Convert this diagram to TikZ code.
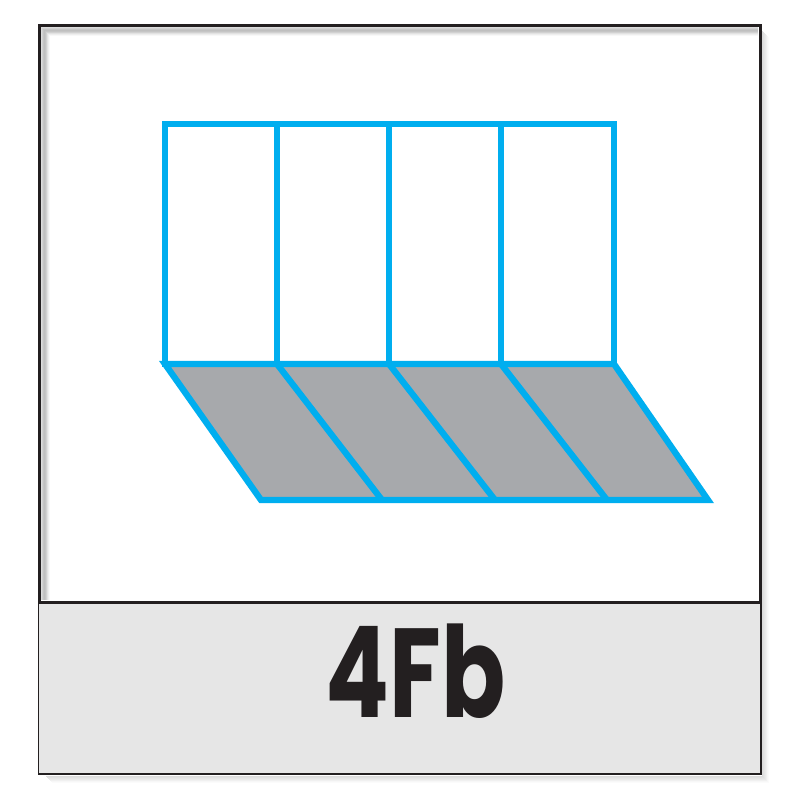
\documentclass[tikz,border=0pt]{standalone}
\usepackage{fontspec}
\usepackage{graphicx}
\newfontfamily\labelfont{Poppins}[UprightFont=* Bold]
\definecolor{cyanline}{HTML}{00AEEF}
\definecolor{panelgray}{HTML}{A7A9AC}
\definecolor{labelbg}{HTML}{E6E6E6}
\definecolor{ink}{HTML}{231F20}
\begin{document}
\begin{tikzpicture}[x=1pt,y=-1pt,
  blueline/.style={draw=cyanline,line width=6.3pt,line join=miter},
  frame/.style={draw=ink,line width=3pt},
  thinframe/.style={draw=ink,line width=1.5pt}]
\useasboundingbox (0,0) rectangle (800,800);
\fill[white] (0,0) rectangle (800,800);
% outer soft shadow (right and bottom)
\foreach \i/\o in {1/0.35,2/0.3,3/0.25,4/0.2,5/0.14,6/0.08,7/0.04}{
  \draw[black!40,opacity=\o,line width=1pt] (761+\i,30+\i) -- (761+\i,775+\i) -- (45+\i,775+\i);
}
% label background
\fill[labelbg] (38,602) rectangle (761,774);
% inner shadow in upper panel (top and left)
\foreach \i/\o in {1/0.3,2/0.4,3/0.5,4/0.55,5/0.5,6/0.4,7/0.25,8/0.14,9/0.06}{
  \draw[black!45,opacity=\o,line width=1pt] (40.5+\i,600) -- (40.5+\i,26.5+\i) -- (758,26.5+\i);
}
% frames
\draw[thinframe] (38.5,602) rectangle (761,774);
\draw[frame] (39,25.5) rectangle (760.5,602);
% gray slanted panel
\fill[panelgray] (165,364) -- (614,364) -- (708,500) -- (261,500) -- cycle;
% top rectangles
\draw[blueline] (165,124) rectangle (614,364);
\foreach \x in {277,389,501}{\draw[blueline] (\x,124) -- (\x,364);}
% parallelogram outline and dividers
\draw[blueline] (165,364) -- (614,364) -- (708,500) -- (261,500) -- cycle;
\draw[blueline] (277,364) -- (382,500);
\draw[blueline] (389,364) -- (495,500);
\draw[blueline] (501,364) -- (607,500);
% label
\node[anchor=base,inner sep=0pt,text=ink,font=\labelfont\fontsize{112}{112}\selectfont] (lbl) at (415.5,717) {\scalebox{0.845}[1.13]{4Fb}};
\end{tikzpicture}
\end{document}
